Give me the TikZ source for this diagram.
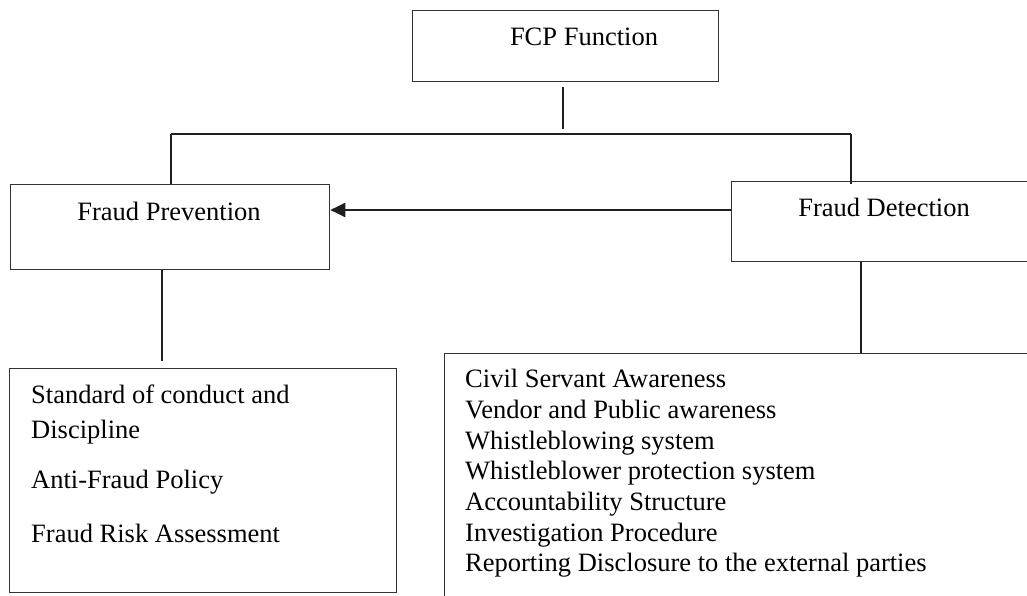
\documentclass[tikz,border=0pt]{standalone}
\usepackage{fontspec}
\setmainfont{Liberation Serif}
\usetikzlibrary{arrows.meta}
\begin{document}
\begin{tikzpicture}[x=1pt,y=-1pt,
  box/.style={draw=black!80,line width=1.3pt,rectangle,inner sep=0pt,anchor=north west},
  conn/.style={draw=black!88,line width=2pt},
  txt/.style={inner sep=0pt,font=\fontsize{26.5}{30.6}\selectfont},
]
\clip (0,0) rectangle (1027,595);
\fill[white] (0,0) rectangle (1027,595);
% boxes
\node[box,minimum width=306,minimum height=71] (fcp) at (412,10) {};
\node[box,minimum width=319,minimum height=85] (prev) at (10,184) {};
\node[box,minimum width=330,minimum height=80] (det) at (731,181) {};
\node[box,minimum width=387,minimum height=224] (prevlist) at (9,368) {};
\node[box,minimum width=620,minimum height=260] (detlist) at (444,353) {};
% titles
\node[txt,anchor=base] (tfcp) at (584,45) {FCP Function};
\node[txt,anchor=base] (tprev) at (169,220) {Fraud Prevention};
\node[txt,anchor=base] (tdet) at (884,216) {Fraud Detection};
% left list
\node[txt,anchor=base west] (p1) at (31,403) {Standard of conduct and};
\node[txt,anchor=base west] (p2) at (31,438) {Discipline};
\node[txt,anchor=base west] (p3) at (31,488) {Anti-Fraud Policy};
\node[txt,anchor=base west] (p4) at (31,542) {Fraud Risk Assessment};
% right list
\node[txt,anchor=base west] (d1) at (465,387) {Civil Servant Awareness};
\node[txt,anchor=base west] (d2) at (465,418) {Vendor and Public awareness};
\node[txt,anchor=base west] (d3) at (465,449) {Whistleblowing system};
\node[txt,anchor=base west] (d4) at (465,479) {Whistleblower protection system};
\node[txt,anchor=base west] (d5) at (465,510) {Accountability Structure};
\node[txt,anchor=base west] (d6) at (465,541) {Investigation Procedure};
\node[txt,anchor=base west] (d7) at (465,571) {Reporting Disclosure to the external parties};
% connectors
\coordinate (barL) at (171,134);
\coordinate (barR) at (851,134);
\coordinate (stemtop) at (563,87);
\coordinate (stembot) at (563,129);
\draw[conn] (stemtop) -- (stembot);
\draw[conn] (barL) -- (barR);
\draw[conn] (barL) -- (barL |- prev.north);
\draw[conn] (barR) -- ([yshift=-3pt]barR |- det.north);
\coordinate (arrowy) at (0,210);
\draw[conn,-{Triangle[length=15pt,width=14pt]}] (det.west |- arrowy) -- (prev.east |- arrowy);
\coordinate (pstemtop) at (162,270);
\coordinate (pstembot) at (162,361);
\draw[conn] (pstemtop) -- (pstembot);
\coordinate (dstem) at (861,0);
\draw[conn] (dstem |- det.south) -- (dstem |- detlist.north);
\end{tikzpicture}
\end{document}
